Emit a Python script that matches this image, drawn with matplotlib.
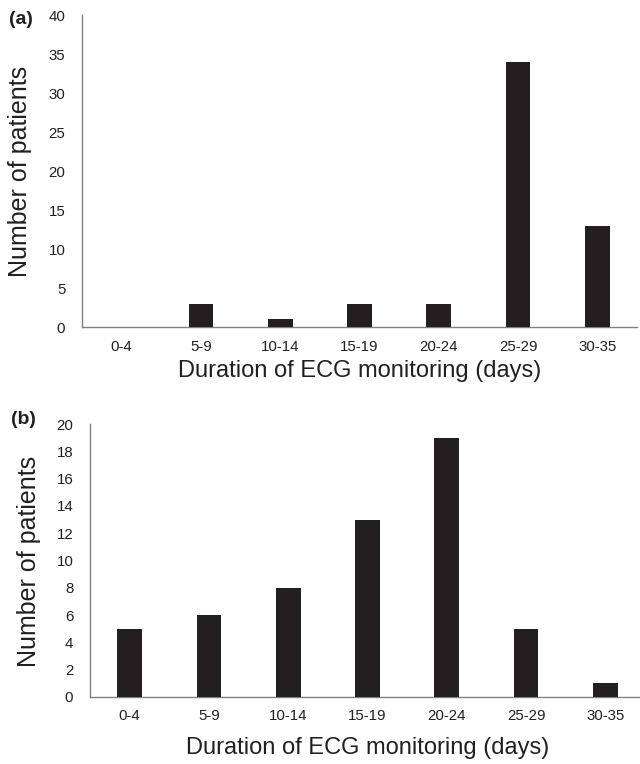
import matplotlib
matplotlib.use("Agg")
import matplotlib.pyplot as plt

plt.rcParams['font.family'] = ['Liberation Sans', 'DejaVu Sans']

categories = ["0-4", "5-9", "10-14", "15-19", "20-24", "25-29", "30-35"]
values_a = [0, 3, 1, 3, 3, 34, 13]
values_b = [5, 6, 8, 13, 19, 5, 1]
yticks_a = [0, 5, 10, 15, 20, 25, 30, 35, 40]
yticks_b = [0, 2, 4, 6, 8, 10, 12, 14, 16, 18, 20]
xlabel = "Duration of ECG monitoring (days)"
ylabel = "Number of patients"

W, H = 640, 764
fig = plt.figure(figsize=(W / 100, H / 100), dpi=100)

bar_color = "#231f20"
text_color = "#231f20"
spine_color = "#808080"


def make_ax(left, right, top, bottom):
    return fig.add_axes([left / W, 1 - bottom / H, (right - left) / W, (bottom - top) / H])


def style(ax, vals, yt, ypad):
    x = range(len(categories))
    ax.bar(x, vals, width=0.31, color=bar_color, zorder=3)
    ax.set_xlim(-0.5, len(categories) - 0.5)
    ax.set_ylim(yt[0], yt[-1])
    ax.set_yticks(yt)
    ax.set_xticks(list(x))
    ax.set_xticklabels(categories)
    ax.tick_params(axis='both', length=0, labelsize=10.8, colors=text_color)
    ax.tick_params(axis='y', pad=ypad)
    ax.tick_params(axis='x', pad=9)
    for s in ['top', 'right']:
        ax.spines[s].set_visible(False)
    for s in ['left', 'bottom']:
        ax.spines[s].set_color(spine_color)
        ax.spines[s].set_linewidth(1.0)
    ax.set_facecolor('none')


# panel (a)
ax1 = make_ax(82, 637, 15, 327)
style(ax1, values_a, yticks_a, 12)
ax1.set_xlabel(xlabel, fontsize=17, color=text_color, labelpad=5)
fig.text(20 / W, 1 - 171 / H, ylabel, fontsize=18, rotation=90, ha='center', va='center', color=text_color)
fig.text(21 / W, 1 - 19 / H, "(a)", fontsize=14, fontweight='bold', color=text_color, va='center', ha='center')

# panel (b)
ax2 = make_ax(90, 645, 424, 697)
style(ax2, values_b, yticks_b, 12)
ax2.set_xlabel(xlabel, fontsize=17, color=text_color, labelpad=10)
fig.text(29 / W, 1 - 561 / H, ylabel, fontsize=18, rotation=90, ha='center', va='center', color=text_color)
fig.text(23 / W, 1 - 419 / H, "(b)", fontsize=14, fontweight='bold', color=text_color, va='center', ha='center')

fig.savefig("out.png", dpi=100)
